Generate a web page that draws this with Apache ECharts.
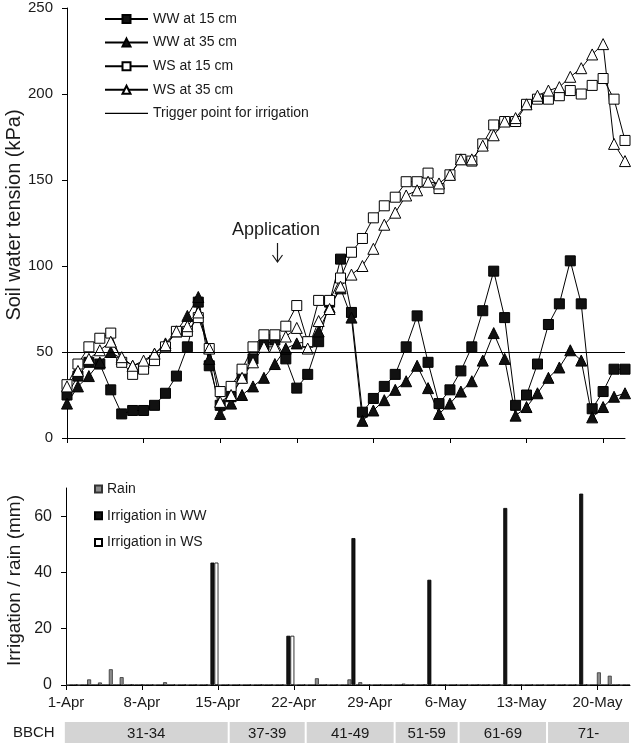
<!DOCTYPE html>
<html><head><meta charset="utf-8">
<script src="https://cdn.jsdelivr.net/npm/echarts@6/dist/echarts.min.js"></script>
<style>html,body{margin:0;padding:0;background:#fff}#c{width:634px;height:745px}</style>
</head><body><div id="c"></div>
<script>
const days = ['1-Apr','2-Apr','3-Apr','4-Apr','5-Apr','6-Apr','7-Apr','8-Apr','9-Apr','10-Apr','11-Apr','12-Apr','13-Apr','14-Apr','15-Apr','16-Apr','17-Apr','18-Apr','19-Apr','20-Apr','21-Apr','22-Apr','23-Apr','24-Apr','25-Apr','26-Apr','27-Apr','28-Apr','29-Apr','30-Apr','1-May','2-May','3-May','4-May','5-May','6-May','7-May','8-May','9-May','10-May','11-May','12-May','13-May','14-May','15-May','16-May','17-May','18-May','19-May','20-May','21-May','22-May'];
const ww15 = [25,36,44,43,28,14,16,16,19,26,36,53,79,42,19,24,35,46,54,57,46,29,37,56,79,104,73,15,23,30,37,53,71,44,20,28,39,53,74,97,70,19,25,43,66,78,103,78,17,27,40,40];
const ww35 = [20,30,36,44,50,46,42,44,49,55,62,71,82,46,14,20,25,30,35,43,52,55,56,62,76,87,70,10,16,22,28,33,42,29,14,20,27,33,45,61,46,13,18,26,35,41,51,45,12,18,24,26];
const ws15 = [31,43,53,58,61,44,37,40,45,53,62,62,70,52,27,30,40,53,60,60,65,77,56,80,80,93,108,116,128,135,140,149,149,154,145,153,162,161,171,182,184,184,194,197,197,199,202,200,205,209,197,173];
const ws35 = [30,39,46,51,56,47,42,45,49,54,62,65,73,52,21,25,35,44,53,53,59,64,52,68,75,88,95,100,110,124,131,141,144,149,148,153,162,162,170,176,184,186,194,199,202,204,210,215,223,229,171,161];
const triggerLevel = 50;
const rain  = [0,0,2.0,0.9,5.6,2.8,0.2,0.1,0,1.0,0,0,0,0,0,0,0,0,0.1,0,0,0,0,2.4,0,0,2.0,1.0,0,0.1,0,0.5,0,0.2,0,0,0,0,0.1,0,0,0,0,0,0,0,0,0,0,4.5,3.3,0];
const irrWW = [0,0,0,0,0,0,0,0,0,0,0,0,0,43.5,0,0,0,0,0,0,17.5,0,0,0,0,0,52.2,0,0,0,0,0,0,37.4,0,0,0,0,0,0,62.9,0,0,0,0,0,0,68.0,0,0,0,0];
const irrWS = [0,0,0,0,0,0,0,0,0,0,0,0,0,43.5,0,0,0,0,0,0,17.5,0,0,0,0,0,0,0,0,0,0,0,0,0,0,0,0,0,0,0,0,0,0,0,0,0,0,0,0,0,0,0];
const weekTicks = [0,7,14,21,28,35,42,49];
const bbchLabels = ['31-34','37-39','41-49','51-59','61-69','71-'];
const bbchStart = [-0.2,15,22.1,30.3,36.2,44.35];
const bbchEnd   = [15,22.1,30.3,36.2,44.35,52];

const FONT = "'Liberation Sans', Arial, Helvetica, sans-serif";
const TXT = '#1a1a1a';
const chart = echarts.init(document.getElementById('c'), null, {renderer:'canvas'});

const lineBase = (name, data, symbol, fill) => ({
  name, type:'line', xAxisIndex:0, yAxisIndex:0, data, symbol, symbolSize: symbol==='rect'?10:11,
  showSymbol:true, showAllSymbol:true,
  itemStyle:{color:fill, borderColor:'#000', borderWidth:1},
  lineStyle:{color:'#000', width:1}, emphasis:{disabled:true}, z: 3
});

chart.setOption({
  animation:false,
  textStyle:{fontFamily:FONT},
  grid:[
    {left:67, top:8, width:558, height:430, outerBoundsMode:'none', containLabel:false},
    {left:66, top:488, width:564, height:197, outerBoundsMode:'none', containLabel:false},
    {left:66, top:722, width:564, height:21, outerBoundsMode:'none', containLabel:false}
  ],
  legend:[
    {data:['WW at 15 cm','WW at 35 cm','WS at 15 cm','WS at 35 cm',
           {name:'Trigger point for irrigation', icon:'path://M0,0H43V1.4H0Z', itemStyle:{color:'#000', borderWidth:0}}],
     orient:'vertical', left:104, top:12, padding:0, itemWidth:43, itemHeight:10, itemGap:9.6,
     textStyle:{fontSize:14, color:TXT, fontFamily:FONT}},
    {data:[{name:'Rain',icon:'rect'},{name:'Irrigation in WW',icon:'rect'},{name:'Irrigation in WS',icon:'rect'}],
     orient:'vertical', left:94, top:482, padding:0, itemWidth:7, itemHeight:7, itemGap:12.8,
     textStyle:{fontSize:14, color:TXT, fontFamily:FONT}}
  ],
  xAxis:[
    {gridIndex:0, type:'category', data:days, boundaryGap:false, position:'bottom',
     axisLine:{lineStyle:{color:'#000', width:1}},
     axisTick:{interval:6, length:5, lineStyle:{color:'#000'}},
     axisLabel:{show:false}, splitLine:{show:false}},
    {gridIndex:1, type:'category', data:days, show:false, position:'bottom'},
    {gridIndex:1, type:'value', min:0, max:52, position:'bottom',
     axisLine:{lineStyle:{color:'#000', width:1}},
     axisTick:{customValues:weekTicks, length:5, lineStyle:{color:'#000'}},
     axisLabel:{customValues:weekTicks, formatter:v=>days[v], fontSize:15, color:TXT, margin:10},
     splitLine:{show:false}},
    {gridIndex:2, type:'value', min:0, max:52, show:false}
  ],
  yAxis:[
    {gridIndex:0, type:'value', min:0, max:250, interval:50,
     name:'Soil water tension (kPa)', nameLocation:'middle', nameGap:43, nameMoveOverlap:false,
     nameTextStyle:{fontSize:20, color:TXT, fontFamily:FONT, padding:[0,0,0,16]},
     axisLine:{show:true, lineStyle:{color:'#000', width:1}},
     axisTick:{show:true, length:5, lineStyle:{color:'#000'}},
     axisLabel:{fontSize:15, color:TXT, margin:14}, splitLine:{show:false}},
    {gridIndex:1, type:'value', min:0, max:70,
     name:'Irrigation / rain (mm)', nameLocation:'middle', nameGap:42, nameMoveOverlap:false,
     nameTextStyle:{fontSize:19, color:TXT, fontFamily:FONT, padding:[0,0,0,12]},
     axisLine:{show:true, lineStyle:{color:'#000', width:1}},
     axisTick:{show:true, customValues:[0,20,40,60], length:5, lineStyle:{color:'#000'}},
     axisLabel:{customValues:[0,20,40,60], fontSize:16, color:TXT, margin:14}, splitLine:{show:false}},
    {gridIndex:2, type:'value', min:0, max:1, show:false}
  ],
  graphic:[
    {type:'text', left:232, top:221, style:{text:'Application', fontSize:18, fill:TXT, fontFamily:FONT}},
    {type:'polyline', shape:{points:[[277.5,243],[277.5,262]]}, style:{stroke:TXT, lineWidth:1.2, fill:null}},
    {type:'polyline', shape:{points:[[272.5,255],[277.5,262],[282.5,255]]}, style:{stroke:TXT, lineWidth:1.2, fill:null}},
    {type:'text', left:13, top:725, style:{text:'BBCH', fontSize:15, fill:TXT, fontFamily:FONT}}
  ],
  series:[
    lineBase('WW at 15 cm', ww15, 'rect', '#111'),
    lineBase('WW at 35 cm', ww35, 'triangle', '#111'),
    lineBase('WS at 15 cm', ws15, 'rect', '#fff'),
    lineBase('WS at 35 cm', ws35, 'triangle', '#fff'),
    {name:'Trigger point for irrigation', type:'line', xAxisIndex:0, yAxisIndex:0, data:[],
     symbol:'none', lineStyle:{color:'#000', width:1}, itemStyle:{color:'#000'},
     markLine:{symbol:'none', silent:true, label:{show:false}, emphasis:{disabled:true},
       lineStyle:{color:'#000', width:1, type:'solid'}, data:[{yAxis:triggerLevel}]}},
    {name:'Rain', type:'bar', xAxisIndex:1, yAxisIndex:1, data:rain, barWidth:4, barGap:'0%',
     itemStyle:{color:'#8c8c8c', borderColor:'#333', borderWidth:0.8}},
    {name:'Irrigation in WW', type:'bar', xAxisIndex:1, yAxisIndex:1, data:irrWW, barWidth:4, barGap:'0%',
     itemStyle:{color:'#141414', borderColor:'#000', borderWidth:0.8}},
    {name:'Irrigation in WS', type:'bar', xAxisIndex:1, yAxisIndex:1, data:irrWS, barWidth:4, barGap:'0%',
     itemStyle:{color:'#fff', borderColor:'#000', borderWidth:0.8}},
    {type:'custom', xAxisIndex:3, yAxisIndex:2, clip:false, silent:true,
     data: bbchLabels.map((l,i)=>[bbchStart[i], bbchEnd[i]]),
     renderItem:(params, api)=>{
       const x0 = api.coord([api.value(0),0])[0];
       const x1 = api.coord([api.value(1),0])[0];
       const cs = params.coordSys;
       return {type:'group', children:[
         {type:'rect', shape:{x:x0+1, y:cs.y, width:x1-x0-2, height:cs.height}, style:{fill:'#d4d4d4'}},
         {type:'text', style:{text:bbchLabels[params.dataIndex], x:(x0+x1)/2, y:cs.y+cs.height/2+1,
           align:'center', verticalAlign:'middle', fontSize:15, fill:TXT, fontFamily:FONT}}
       ]};
     }}
  ]
});
</script></body></html>
